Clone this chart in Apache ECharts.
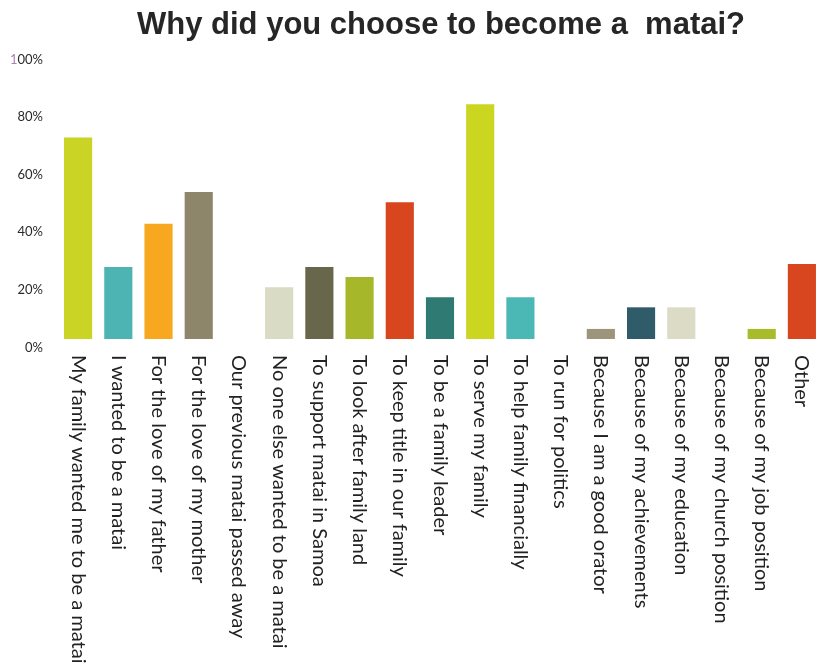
<!DOCTYPE html>
<html>
<head>
<meta charset="utf-8">
<script src="https://cdn.jsdelivr.net/npm/echarts@6/dist/echarts.min.js"></script>
<style>
  html, body { margin: 0; padding: 0; background: #ffffff; }
  #chart { width: 837px; height: 671px; }
</style>
</head>
<body>
<div id="chart"></div>
<script>
// Survey reasons (categories) and share of respondents (%)
const categories = [
  'My family wanted me to be a matai',
  'I wanted to be a matai',
  'For the love of my father',
  'For the love of my mother',
  'Our previous matai passed away',
  'No one else wanted to be a matai',
  'To support matai in Samoa',
  'To look after family land',
  'To keep title in our family',
  'To be a family leader',
  'To serve my family',
  'To help family financially',
  'To run for politics',
  'Because I am a good orator',
  'Because of my achievements',
  'Because of my education',
  'Because of my church position',
  'Because of my job position',
  'Other'
];
const shares = [70, 25, 40, 51, 0, 18, 25, 21.5, 47.5, 14.5, 81.5, 14.5, 0, 3.5, 11, 11, 0, 3.5, 26];
const barColors = [
  '#c9d424', '#4db4b3', '#f7a81e', '#8e866a', '#cccccc', '#d9dbc4', '#69674b',
  '#a6b82a', '#d8461f', '#2f7b74', '#cbd620', '#4cb8b6', '#cccccc', '#9c957b',
  '#305b69', '#dcdcc6', '#cccccc', '#a8bb2a', '#d8461f'
];
const yTicks = [0, 20, 40, 60, 80, 100];

const chart = echarts.init(document.getElementById('chart'));
chart.setOption({
  backgroundColor: '#ffffff',
  title: {
    text: 'Why did you choose to become a  matai?',
    left: 132,
    top: 5,
    textStyle: {
      fontFamily: 'Liberation Sans, Arial, sans-serif',
      fontWeight: 'bold',
      fontSize: 31,
      color: '#262626'
    }
  },
  grid: { left: 58, right: 15, top: 51, bottom: 332, containLabel: false },
  xAxis: {
    type: 'category',
    data: categories,
    axisLine: { show: false },
    axisTick: { show: false },
    axisLabel: {
      interval: 0,
      rotate: -90,
      margin: 16,
      fontFamily: 'Lato, sans-serif',
      fontSize: 20,
      color: '#222222'
    }
  },
  yAxis: {
    type: 'value',
    min: 0,
    max: 100,
    interval: 20,
    splitLine: { show: false },
    axisLine: { show: false },
    axisTick: { show: false },
    axisLabel: {
      margin: 15,
      verticalAlign: 'top',
      padding: [2, 0, 0, 0],
      fontFamily: 'Lato, sans-serif',
      fontSize: 13,
      color: '#2a2a2a',
      formatter: v => {
        if (!yTicks.includes(v)) return '';
        return v === 100 ? '{p|1}00%' : v + '%';
      },
      rich: {
        p: { color: '#b07fb0', fontFamily: 'Lato, sans-serif', fontSize: 13 }
      }
    }
  },
  series: [{
    type: 'bar',
    barCategoryGap: '30%',
    data: shares.map((v, i) => ({ value: v, itemStyle: { color: barColors[i] } })),
    silent: true
  }],
  animation: false
});
</script>
</body>
</html>
